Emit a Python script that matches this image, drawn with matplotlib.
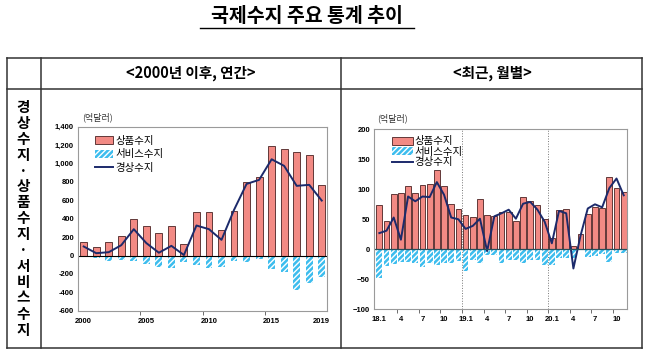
import numpy as np
import matplotlib.pyplot as plt
from matplotlib.ticker import FuncFormatter

plt.rcParams['font.family'] = ['Noto Sans CJK KR', 'DejaVu Sans']
plt.rcParams['hatch.linewidth'] = 1.0

# 연간 (억달러)
years = list(range(2000, 2020))
goods_y = [152, 94, 145, 217, 395, 326, 243, 326, 120, 471,
           471, 275, 482, 796, 851, 1195, 1158, 1129, 1093, 764]
serv_y = [-10, -29, -65, -50, -60, -87, -130, -134, -69, -98,
          -138, -127, -62, -69, -36, -148, -174, -376, -297, -235]
ca_y = [98, 25, 36, 112, 286, 135, 30, 105, 5, 326,
        286, 170, 496, 778, 822, 1046, 974, 757, 768, 597]
year_labels = ['2000', '2005', '2010', '2015', '2019']
year_label_pos = [0, 5, 10, 15, 19]

# 월별 (억달러), 2018.1 ~ 2020.11
goods_m = [74, 48, 93, 94, 105, 94, 107, 109, 132, 105, 75, 67,
           58, 54, 84, 57, 56, 63, 62, 47, 87, 81, 74, 51,
           18, 65, 67, 6, 25, 59, 71, 69, 120, 102, 96]
serv_m = [-47, -27, -24, -21, -21, -23, -29, -22, -26, -22, -23, -19,
          -36, -17, -22, -10, -10, -22, -17, -17, -23, -17, -18, -26,
          -26, -14, -14, -15, -2, -12, -11, -8, -21, -6, -7]
ca_m = [27, 31, 53, 16, 88, 80, 88, 87, 112, 91, 53, 50,
        34, 39, 51, -3, 55, 60, 66, 51, 76, 79, 66, 46,
        10, 64, 60, -32, 23, 68, 75, 70, 102, 118, 90]
month_labels = ['18.1', '4', '7', '10', '19.1', '4', '7', '10', '20.1', '4', '7', '10']

W, H = 652, 351
fig = plt.figure(figsize=(W / 100, H / 100), dpi=100)

# 배경: 제목과 표
bg = fig.add_axes([0, 0, 1, 1])
bg.set_xlim(0, W)
bg.set_ylim(H, 0)
bg.axis('off')
bg.text(307, 16, '국제수지 주요 통계 추이', ha='center', va='center',
        fontsize=14, fontweight='bold')
bg.plot([200, 414], [28, 28], color='black', lw=1)
tx = [7.3, 40.7, 340.7, 641.7]
ty = [57.7, 89, 348.3]
for x in tx:
    bg.plot([x, x], [ty[0], ty[2]], color='#333333', lw=1.1)
for y in ty:
    bg.plot([tx[0], tx[-1]], [y, y], color='#333333', lw=1.1)
bg.text(191, 73, '<2000년 이후, 연간>', ha='center', va='center',
        fontsize=10.5, fontweight='bold')
bg.text(492, 73, '<최근, 월별>', ha='center', va='center',
        fontsize=10.5, fontweight='bold')
side = '경상수지·상품수지·서비스수지'
for i, ch in enumerate(side):
    bg.text(23, 107 + i * 15.9, ch, ha='center', va='center',
            fontsize=10.5, fontweight='bold')


def ax_at(l, t, r, b):
    return fig.add_axes([l / W, 1 - b / H, (r - l) / W, (b - t) / H])


goods_kw = dict(color='#f28a84', edgecolor='#4a2222', linewidth=0.6)
serv_kw = dict(color='#3dbdee', edgecolor='white', hatch='//////', linewidth=0)
line_kw = dict(color='#1c2a6b', linewidth=1.4)


def style(ax):
    for s in ax.spines.values():
        s.set_color('#9a9a9a')
        s.set_linewidth(0.8)
    ax.tick_params(axis='y', length=0, labelsize=5.5, pad=3)
    ax.tick_params(axis='x', which='major', length=0, labelsize=5.5, pad=5)
    ax.tick_params(axis='x', which='minor', length=3, color='#555555')
    for lab in ax.get_xticklabels() + ax.get_yticklabels():
        lab.set_family(['Liberation Sans', 'DejaVu Sans'])
        lab.set_fontweight('bold')


def draw(ax, x, goods, serv, ca, width):
    b1 = ax.bar(x, goods, width=width, label='상품수지', **goods_kw)
    b2 = ax.bar(x, serv, width=width, label='서비스수지', **serv_kw)
    l1, = ax.plot(x, ca, label='경상수지', **line_kw)
    return [b1, b2, l1]


# 왼쪽: 연간
ax1 = ax_at(78.3, 126.7, 327, 310.7)
h1 = draw(ax1, np.arange(len(years)), goods_y, serv_y, ca_y, 0.55)
ax1.axhline(0, color='black', lw=0.8)
ax1.set_xlim(-0.43, 19.42)
ax1.set_ylim(-600, 1400)
ax1.set_yticks(range(-600, 1401, 200))
ax1.yaxis.set_major_formatter(FuncFormatter(lambda v, p: f'{int(v):,}'))
ax1.set_xticks(year_label_pos)
ax1.set_xticklabels(year_labels)
ax1.set_xticks([4.5, 9.5, 14.5], minor=True)
style(ax1)
ax1.legend(handles=h1, loc='upper left', bbox_to_anchor=(0.045, 0.98), frameon=False,
           fontsize=7.5, borderpad=0, handlelength=1.8, handleheight=0.8,
           handletextpad=0.15, labelspacing=0.35)
bg.text(82, 117, '(억달러)', ha='left', va='center', fontsize=6.5, color='#333333')

# 오른쪽: 월별
ax2 = ax_at(374.3, 129.3, 627.3, 309.3)
h2 = draw(ax2, np.arange(len(goods_m)), goods_m, serv_m, ca_m, 0.8)
ax2.axhline(0, color='#24525e', lw=0.9)
for v in [11.5, 23.5]:
    ax2.axvline(v, color='#777777', ls=':', lw=0.7, zorder=0)
ax2.set_xlim(-0.7, 34.5)
ax2.set_ylim(-100, 200)
ax2.set_yticks(range(-100, 201, 50))
ax2.set_xticks(np.arange(0, 34, 3))
ax2.set_xticklabels(month_labels)
ax2.set_xticks(np.arange(2.5, 34, 3), minor=True)
style(ax2)
ax2.legend(handles=h2, loc='upper left', bbox_to_anchor=(0.05, 0.99), frameon=False,
           fontsize=7.5, borderpad=0, handlelength=2.0, handleheight=0.8,
           handletextpad=0.15, labelspacing=0.05)
bg.text(377, 118, '(억달러)', ha='left', va='center', fontsize=6.5, color='#333333')

fig.savefig('out.png', dpi=100)
